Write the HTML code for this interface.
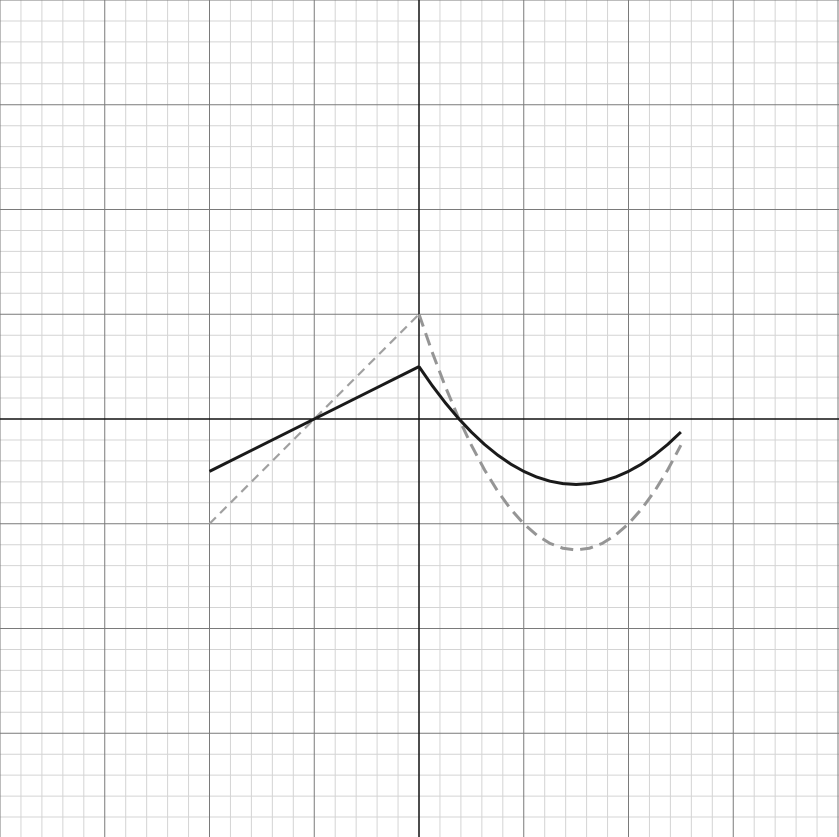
<!DOCTYPE html>
<html><head><meta charset="utf-8"><style>
html,body{margin:0;padding:0;background:#fff;}
svg{display:block;}
</style></head><body>
<svg id="chart" width="839" height="837" viewBox="0 0 839 837" xmlns="http://www.w3.org/2000/svg">
<g id="grid"></g>
<g id="axes"></g>
<g id="series"></g>
</svg>
<script>
const lineX = [-2, 0];
const dashedLineY = [-1, 1];
const solidLineY = [-0.5, 0.5];
const curveX = [0,0.125,0.25,0.375,0.5,0.625,0.75,0.875,1,1.125,1.25,1.375,1.5,1.625,1.75,1.875,2,2.125,2.25,2.375,2.5];
const dashedCurveY = [1,0.640625,0.3125,0.015625,-0.25,-0.484375,-0.6875,-0.859375,-1,-1.109375,-1.1875,-1.234375,-1.25,-1.234375,-1.1875,-1.109375,-1,-0.859375,-0.6875,-0.484375,-0.25];
const solidCurveY = [0.5,0.3203125,0.15625,0.0078125,-0.125,-0.2421875,-0.34375,-0.4296875,-0.5,-0.5546875,-0.59375,-0.6171875,-0.625,-0.6171875,-0.59375,-0.5546875,-0.5,-0.4296875,-0.34375,-0.2421875,-0.125];

const U = 104.75, OX = 419, OY = 419;
const sx = x => OX + x*U;
const sy = y => OY - y*U;
const NS = 'http://www.w3.org/2000/svg';
const grid = document.getElementById('grid');
function ln(parent,x1,y1,x2,y2,stroke,w,name){
  const l=document.createElementNS(NS,'line');
  l.setAttribute('x1',x1);l.setAttribute('y1',y1);l.setAttribute('x2',x2);l.setAttribute('y2',y2);
  l.setAttribute('stroke',stroke);l.setAttribute('stroke-width',w);
  
  
  parent.appendChild(l);
}
for(let i=-20;i<=20;i++){
  if(i%5===0) continue;
  const v=i/5;
  ln(grid,sx(v),0,sx(v),837,'#d4d4d4',1,'minor-gridline-x');
  ln(grid,0,sy(v),839,sy(v),'#d4d4d4',1,'minor-gridline-y');
}
for(let i=-4;i<=4;i++){
  if(i===0) continue;
  ln(grid,sx(i),0,sx(i),837,'#7a7a7a',1,'major-gridline-x');
  ln(grid,0,sy(i),839,sy(i),'#7a7a7a',1,'major-gridline-y');
}
const axes=document.getElementById('axes');
ln(axes,sx(0),0,sx(0),837,'#111',1.5,'y-axis');
ln(axes,0,sy(0),839,sy(0),'#111',1.5,'x-axis');

const series=document.getElementById('series');
function path(xs,ys,stroke,w,dash,name){
  const p=document.createElementNS(NS,'path');
  p.setAttribute('d',xs.map((x,i)=>(i?'L':'M')+sx(x).toFixed(2)+','+sy(ys[i]).toFixed(2)).join(''));
  p.setAttribute('fill','none');p.setAttribute('stroke',stroke);p.setAttribute('stroke-width',w);
  p.setAttribute('stroke-linejoin','round');
  if(dash)p.setAttribute('stroke-dasharray',dash);
  
  
  series.appendChild(p);
}
path(lineX,dashedLineY,'#a0a0a0',2.2,'9,6','dashed-line-segment');
path(curveX,dashedCurveY,'#959595',3,'13,7','dashed-curve');
path(lineX,solidLineY,'#1a1a1a',3,null,'solid-line-segment');
path(curveX,solidCurveY,'#1a1a1a',3,null,'solid-curve');
</script>
</body></html>
